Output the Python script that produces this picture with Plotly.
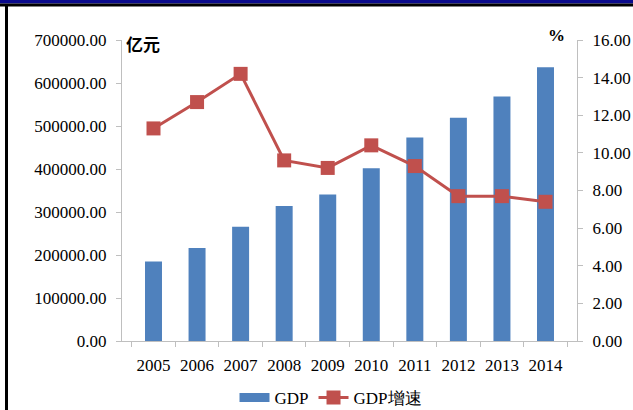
import plotly.graph_objects as go

years = ["2005", "2006", "2007", "2008", "2009", "2010", "2011", "2012", "2013", "2014"]
gdp = [184937.4, 216314.4, 265810.3, 314045.4, 340902.8, 401512.8, 473104.0, 519470.1, 568845.2, 636463.0]
growth = [11.3, 12.7, 14.2, 9.6, 9.2, 10.4, 9.3, 7.7, 7.7, 7.4]
left_ticks = [0, 100000, 200000, 300000, 400000, 500000, 600000, 700000]
right_ticks = [0, 2, 4, 6, 8, 10, 12, 14, 16]

W, H = 633, 410
L, R, T, B = 122, 577, 40, 341

def px(x):
    return (x - L) / (R - L)

def py(y):
    return (B - y) / (B - T)

serif = "Times New Roman"
blue = "#4F81BD"
red = "#C0504D"

fig = go.Figure()
fig.add_trace(go.Bar(
    x=years, y=gdp, name="GDP", marker=dict(color=blue, line=dict(width=0)),
    yaxis="y", showlegend=False,
))
# legend entry for the bars drawn as a wide block, like the reference
fig.add_trace(go.Scatter(
    x=[None], y=[None], name="GDP", mode="lines",
    line=dict(color=blue, width=9), yaxis="y", showlegend=True,
))
fig.add_trace(go.Scatter(
    x=years, y=growth, name="GDP增速", mode="lines+markers",
    line=dict(color=red, width=3),
    marker=dict(symbol="square", size=14, color=red),
    yaxis="y2",
))

axis_col = "#BFBFBF"
fig.update_layout(
    width=W, height=H,
    margin=dict(l=L, r=W - R, t=T, b=H - B, pad=0, autoexpand=False),
    paper_bgcolor="white", plot_bgcolor="white",
    font=dict(family=serif, size=17, color="#000000"),
    bargap=0.61,
    showlegend=True,
    legend=dict(orientation="h", x=px(331), xanchor="center", y=py(398), yanchor="middle",
                font=dict(family=serif, size=17), traceorder="normal",
                bgcolor="rgba(0,0,0,0)", itemsizing="trace"),
    xaxis=dict(
        type="category", showline=True, linecolor=axis_col, linewidth=1,
        ticks="outside", tickson="boundaries", ticklen=5, tickcolor=axis_col,
        showgrid=False, tickfont=dict(family=serif, size=17), tickangle=0,
        automargin=False, ticklabelstandoff=9,
    ),
    yaxis=dict(
        range=[0, 700000], tickvals=left_ticks,
        ticktext=["%.2f" % v for v in left_ticks],
        showline=True, linecolor=axis_col, linewidth=1,
        ticks="outside", ticklen=5, tickcolor=axis_col,
        showgrid=False, zeroline=False, tickfont=dict(family=serif, size=17),
        ticklabelstandoff=6, automargin=False,
    ),
    yaxis2=dict(
        range=[0, 16], tickvals=right_ticks,
        ticktext=["%.2f" % v for v in right_ticks],
        overlaying="y", side="right",
        showline=True, linecolor=axis_col, linewidth=1,
        ticks="outside", ticklen=5, tickcolor=axis_col,
        showgrid=False, zeroline=False, tickfont=dict(family=serif, size=17),
        ticklabelstandoff=6, automargin=False,
    ),
    annotations=[
        dict(text="<b>亿元</b>", xref="paper", yref="paper", x=px(124), y=py(44),
             xanchor="left", yanchor="middle", showarrow=False,
             font=dict(family="Noto Sans CJK SC", size=17, color="#000")),
        dict(text="<b>%</b>", xref="paper", yref="paper", x=px(567), y=py(36),
             xanchor="right", yanchor="middle", showarrow=False,
             font=dict(family=serif, size=17, color="#000")),
    ],
    shapes=[
        dict(type="rect", xref="paper", yref="paper", x0=px(0), x1=px(W), y0=py(3.5), y1=py(0),
             fillcolor="#0A0A8C", line=dict(width=0), layer="above"),
        dict(type="rect", xref="paper", yref="paper", x0=px(0), x1=px(W), y0=py(6.5), y1=py(3.5),
             fillcolor="#000000", line=dict(width=0), layer="above"),
        dict(type="rect", xref="paper", yref="paper", x0=px(5), x1=px(8), y0=py(H), y1=py(4),
             fillcolor="#000000", line=dict(width=0), layer="above"),
    ],
)

fig.write_html("out.html", config={"displayModeBar": False},
               post_script="document.body.style.margin='0';document.body.style.overflow='hidden';")
